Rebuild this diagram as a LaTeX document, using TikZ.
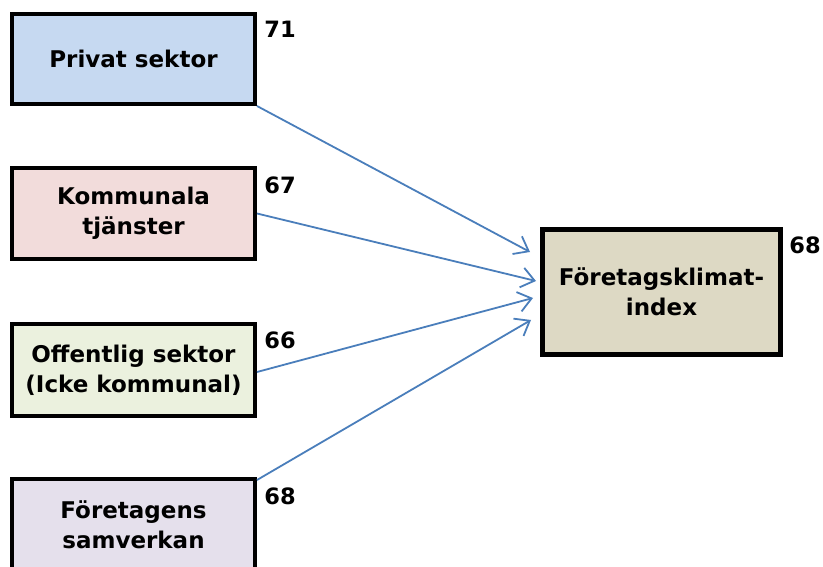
\documentclass[tikz,border=0pt]{standalone}
\usepackage{fontspec}
\setmainfont{DejaVu Sans}
\usetikzlibrary{arrows.meta}
\definecolor{fillA}{HTML}{C6D9F1}
\definecolor{fillB}{HTML}{F2DCDB}
\definecolor{fillC}{HTML}{EBF1DE}
\definecolor{fillD}{HTML}{E5E0EC}
\definecolor{fillE}{HTML}{DDD9C4}
\definecolor{arrowblue}{HTML}{4A7EBB}
\tikzset{
  srcbox/.style={draw=black, line width=4pt, minimum width=243pt, align=center, inner sep=0pt,
    font=\fontsize{23}{30}\selectfont\bfseries},
  bigbox/.style={draw=black, line width=5pt, fill=fillE, minimum width=238pt, minimum height=125pt,
    align=center, inner sep=0pt, font=\fontsize{23}{30}\selectfont\bfseries},
  numlabel/.style={font=\fontsize{22.5}{24}\selectfont\bfseries, inner sep=0pt},
  link/.style={draw=arrowblue, line width=1.8pt, -{Straight Barb[length=13pt,width=20pt,line width=1.8pt]}}
}
\begin{document}
\begin{tikzpicture}[x=1pt,y=-1pt]
\useasboundingbox (0,0) rectangle (823,567);
\clip (0,0) rectangle (823,567);
\node[srcbox, fill=fillA, minimum height=90pt] (b1) at (133.5,59) {Privat sektor};
\node[srcbox, fill=fillB, minimum height=91pt] (b2) at (133.5,213.5) {Kommunala\\tjänster};
\node[srcbox, fill=fillC, minimum height=92pt] (b3) at (133.5,370) {Offentlig sektor\\(Icke kommunal)};
\node[srcbox, fill=fillD, minimum height=92pt] (b4) at (133.5,525) {Företagens\\samverkan};
\node[bigbox] (t) at (661.5,292) {Företagsklimat-\\index};
\node[numlabel] (n1) at (280,29) {71};
\node[numlabel] (n2) at (280,185) {67};
\node[numlabel] (n3) at (280,340) {66};
\node[numlabel] (n4) at (280,496) {68};
\node[numlabel] (n5) at (805,245) {68};
\coordinate (e1) at (530,252);
\coordinate (e2) at (536,281);
\coordinate (e3) at (533,298);
\coordinate (e4) at (531,320);
\draw[link] (b1.south east) -- (e1);
\draw[link] (b2.east) -- (e2);
\draw[link] ([yshift=-2pt]b3.east) -- (e3);
\draw[link] ([yshift=-3pt]b4.north east) -- (e4);
\end{tikzpicture}
\end{document}
